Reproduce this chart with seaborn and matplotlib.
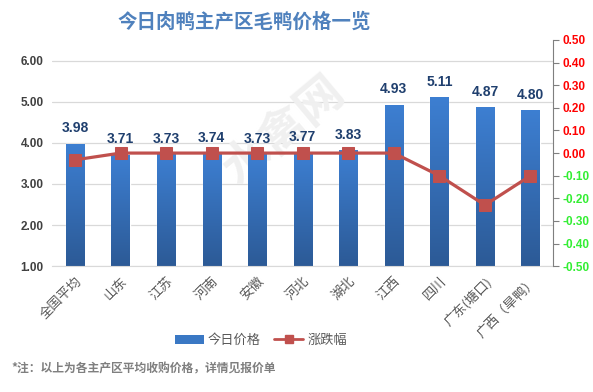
import matplotlib
matplotlib.use('Agg')
import matplotlib.pyplot as plt
import numpy as np
import pandas as pd
import seaborn as sns
from matplotlib.colors import LinearSegmentedColormap
from matplotlib.patches import Patch
from matplotlib.lines import Line2D

regions = ['全国平均', '山东', '江苏', '河南', '安徽', '河北', '湖北', '江西', '四川', '广东(塘口)', '广西（旱鸭）']
prices = [3.98, 3.71, 3.73, 3.74, 3.73, 3.77, 3.83, 4.93, 5.11, 4.87, 4.80]
changes = [-0.03, 0.00, 0.00, 0.00, 0.00, 0.00, 0.00, 0.00, -0.10, -0.23, -0.10]
left_ticks = [1, 2, 3, 4, 5, 6]
right_ticks = [-0.5, -0.4, -0.3, -0.2, -0.1, 0.0, 0.1, 0.2, 0.3, 0.4, 0.5]

df = pd.DataFrame({'region': regions, 'price': prices, 'change': changes})

sns.set_style('white')
plt.rcParams['font.family'] = ['Noto Sans CJK SC', 'DejaVu Sans']
num_font = 'Liberation Sans'

fig = plt.figure(figsize=(5.93, 3.92), dpi=100)
ax = fig.add_axes([0.088, 0.321, 0.845, 0.577])

sns.barplot(data=df, x='region', y='price', color='#3a78c4', width=0.4,
            ax=ax, zorder=2, saturation=1)
ax.set_ylim(1, 6.5)
ax.set_xlim(-0.5, len(regions) - 0.5)

# gradient fill on the bars
cmap = LinearSegmentedColormap.from_list('bar', ['#2c5a96', '#3d7fd2'])
grad = np.linspace(0, 1, 256).reshape(-1, 1)
for p in ax.patches:
    x0, y0 = p.get_x(), p.get_y()
    w, h = p.get_width(), p.get_height()
    p.set_facecolor('none')
    im = ax.imshow(grad, cmap=cmap, aspect='auto', origin='lower',
                   extent=[x0, x0 + w, 1, y0 + h], zorder=2)
    im.set_clip_path(p)

for i, v in enumerate(prices):
    ax.text(i, v + 0.2, f'{v:.2f}', ha='center', va='bottom', fontsize=10,
            fontweight='bold', color='#1f3f6e', family=num_font)

# faint watermark behind the bars
ax.text(4.6, 4.3, '水禽网', fontsize=34, color='#f0f0f0', rotation=40,
        ha='center', va='center', fontweight='bold', zorder=1)

ax.set_yticks(left_ticks)
ax.set_yticklabels([f'{t:.2f}' for t in left_ticks], fontsize=8.5,
                   color='#404040', fontweight='bold', family=num_font)
ax.yaxis.grid(True, color='#d9d9d9', lw=0.9, zorder=0)
ax.set_axisbelow(True)
for s in ['left', 'right', 'top']:
    ax.spines[s].set_visible(False)
ax.spines['bottom'].set_color('#d9d9d9')
ax.tick_params(axis='both', length=0, pad=6)
ax.set_xticks(range(len(regions)))
ax.set_xticklabels(regions, rotation=45, ha='right', rotation_mode='anchor',
                   fontsize=9.5, color='#595959')
ax.set_xlabel('')
ax.set_ylabel('')

ax2 = ax.twinx()
sns.lineplot(x=np.arange(len(regions)), y=changes, ax=ax2, color='#c0504d',
             lw=2.3, marker='s', markersize=8, markeredgecolor='#c0504d', zorder=3)
ax2.set_ylim(-0.5, 0.5)
ax2.set_yticks(right_ticks)
ax2.set_yticklabels([f'{t:.2f}' for t in right_ticks], fontsize=8.5,
                    fontweight='bold', family=num_font)
for t, lab in zip(right_ticks, ax2.get_yticklabels()):
    lab.set_color('#ff0000' if t >= 0 else '#33ee33')
for s in ['left', 'top', 'bottom']:
    ax2.spines[s].set_visible(False)
ax2.spines['right'].set_color('#7f7f7f')
ax2.tick_params(axis='y', length=4, color='#7f7f7f', pad=3)
ax2.set_xlim(-0.5, len(regions) - 0.5)

fig.text(0.412, 0.944, '今日肉鸭主产区毛鸭价格一览', ha='center', va='center',
         fontsize=14, fontweight='bold', color='#4f81bd')

handles = [Patch(facecolor='#3a78c4', edgecolor='none'),
           Line2D([0], [0], color='#c0504d', lw=2, marker='s', markersize=6)]
fig.legend(handles, ['今日价格', '涨跌幅'], loc='center', bbox_to_anchor=(0.44, 0.132),
           ncol=2, frameon=False, fontsize=9.5, labelcolor='#595959',
           handlelength=2.2, columnspacing=1.0, handletextpad=0.3)

fig.text(0.02, 0.058, '*注：以上为各主产区平均收购价格，详情见报价单', fontsize=8.5,
         color='#7f7f7f', fontweight='bold', va='center')

fig.savefig('out.png', dpi=100)
